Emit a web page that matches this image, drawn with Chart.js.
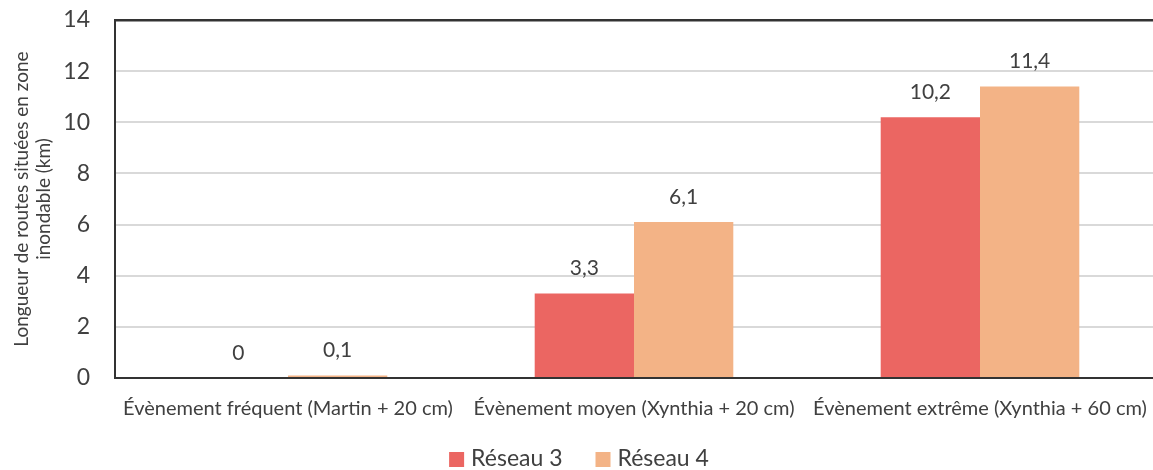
<!DOCTYPE html>
<html lang="fr">
<head>
<meta charset="utf-8">
<script src="https://cdn.jsdelivr.net/npm/chart.js@4"></script>
<style>
  html, body { margin: 0; padding: 0; background: #fff; }
  #wrap { width: 1153px; height: 470px; position: relative; }
</style>
</head>
<body>
<div id="wrap"><canvas id="c"></canvas></div>
<script>
// Road length in flood zone, per flood scenario and network
const categories = [
  'Évènement fréquent (Martin + 20 cm)',
  'Évènement moyen (Xynthia + 20 cm)',
  'Évènement extrême (Xynthia + 60 cm)'
];
const reseau3 = [0, 3.3, 10.2];
const reseau4 = [0.1, 6.1, 11.4];
const seriesNames = ['Réseau 3', 'Réseau 4'];
const seriesColors = ['#EB6662', '#F3B386'];
const yTicks = [0, 2, 4, 6, 8, 10, 12, 14];
const yTitle = ['Longueur de routes situées en zone', 'inondable (km)'];

const FONT = 'Lato, "Open Sans", sans-serif';
const TEXT = '#404040';
const AXIS = '#333333';

// Writes each bar's value above it, French decimal comma
const valueLabels = {
  id: 'valueLabels',
  afterDatasetsDraw(chart) {
    const ctx = chart.ctx;
    ctx.save();
    ctx.font = '21px ' + FONT;
    ctx.fillStyle = TEXT;
    ctx.textAlign = 'center';
    ctx.textBaseline = 'middle';
    chart.data.datasets.forEach((ds, i) => {
      chart.getDatasetMeta(i).data.forEach((bar, j) => {
        const txt = String(ds.data[j]).replace('.', ',');
        ctx.fillText(txt, bar.x, bar.y - 25);
      });
    });
    ctx.restore();
  }
};

// Compact legend row under the axis labels: square swatch + series name
const bottomLegend = {
  id: 'bottomLegend',
  afterDraw(chart) {
    const ctx = chart.ctx;
    const box = 15, gapText = 7, gapItem = 33, cy = 459, centerX = 579;
    ctx.save();
    ctx.font = '23px ' + FONT;
    ctx.textBaseline = 'middle';
    ctx.textAlign = 'left';
    const items = chart.data.datasets.map(ds => ({
      label: ds.label, color: ds.backgroundColor, w: ctx.measureText(ds.label).width
    }));
    const total = items.reduce((s, it) => s + box + gapText + it.w, 0) + gapItem * (items.length - 1);
    let x = centerX - total / 2;
    items.forEach(it => {
      ctx.fillStyle = it.color;
      ctx.fillRect(x, cy - box / 2 + 0.5, box, box);
      x += box + gapText;
      ctx.fillStyle = TEXT;
      ctx.fillText(it.label, x, cy);
      x += it.w + gapItem;
    });
    ctx.restore();
  }
};

new Chart(document.getElementById('c'), {
  type: 'bar',
  data: {
    labels: categories,
    datasets: [
      { label: seriesNames[0], data: reseau3, backgroundColor: seriesColors[0], borderWidth: 0 },
      { label: seriesNames[1], data: reseau4, backgroundColor: seriesColors[1], borderWidth: 0 }
    ]
  },
  options: {
    responsive: true,
    maintainAspectRatio: false,
    animation: false,
    layout: { padding: { top: 20, right: 0, left: 0, bottom: 0 } },
    datasets: { bar: { categoryPercentage: 0.574, barPercentage: 1.0 } },
    scales: {
      x: {
        grid: { display: false, drawTicks: false },
        border: { color: AXIS, width: 2 },
        ticks: { color: TEXT, font: { family: FONT, size: 20 }, padding: 19, maxRotation: 0 },
        afterFit(scale) { scale.height = 92; scale.paddingLeft = 0; scale.paddingRight = 0; }
      },
      y: {
        min: 0, max: 14,
        afterBuildTicks(axis) { axis.ticks = yTicks.map(v => ({ value: v })); },
        grid: {
          color: c => (c.tick && c.tick.value === 14 ? AXIS : '#d9d9d9'),
          lineWidth: c => (c.tick && c.tick.value === 14 ? 2.5 : 2),
          drawTicks: false
        },
        border: { color: AXIS, width: 2 },
        ticks: { color: TEXT, font: { family: FONT, size: 23 }, padding: 25 },
        title: { display: true, text: yTitle, color: TEXT, font: { family: FONT, size: 19, lineHeight: 1.2 }, padding: { top: 10, bottom: 0 } },
        afterFit(scale) { scale.width = 115; scale.paddingTop = 0; scale.paddingBottom = 0; }
      }
    },
    plugins: {
      legend: { display: false },
      tooltip: { enabled: false }
    }
  },
  plugins: [valueLabels, bottomLegend]
});
</script>
</body>
</html>
